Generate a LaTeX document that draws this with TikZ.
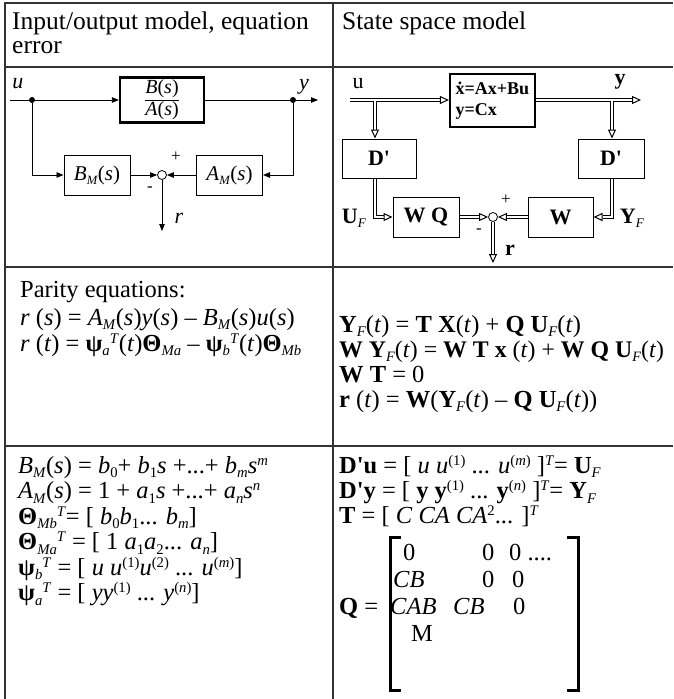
\documentclass[tikz,border=0pt]{standalone}
\usepackage{fontspec}
\setmainfont{Liberation Serif}
\usetikzlibrary{arrows.meta}
\makeatletter
\newcommand\scrsz{\fontsize{\strip@pt\dimexpr0.6\dimexpr\f@size pt\relax\relax}{1}\selectfont}
\newcommand\sbs[1]{\raisebox{-0.2em}{\scrsz #1}}
\newcommand\sps[1]{\raisebox{0.32em}{\scrsz #1}}
\makeatother
\newcommand\iv[1]{\textit{#1}}
\newcommand\bq{\textquotesingle}
\begin{document}
\begin{tikzpicture}[x=1pt,y=-1pt,
  tbl/.style={line width=1.6pt, black!80},
  H/.style={inner sep=0pt, anchor=base west, font=\fontsize{25.5}{26}\selectfont},
  T/.style={inner sep=0pt, anchor=base west, font=\fontsize{24.5}{26}\selectfont},
  blk/.style={draw, line width=1pt, minimum width=66pt, minimum height=40pt, inner sep=0pt, font=\fontsize{21}{22}\selectfont},
  blkb/.style={draw, line width=1pt, minimum width=66pt, minimum height=40pt, inner sep=0pt, font=\fontsize{22}{22}\selectfont\bfseries},
  bigblk/.style={draw, line width=2.2pt, inner sep=0pt},
  ln/.style={line width=0.8pt, -{Triangle[length=7pt,width=5.5pt]}},
  dblout/.style={draw=black, line width=4pt, shorten >=9pt},
  dblin/.style={draw=white, line width=2pt, -{Triangle[open,length=9pt,width=8pt,line width=1pt,color=black]}},
  dotn/.style={circle, fill, inner sep=0pt, minimum size=6pt},
  sumc/.style={circle, draw, line width=0.8pt, fill=white, inner sep=0pt, minimum size=9pt},
  lbl/.style={inner sep=0pt, font=\fontsize{22}{22}\selectfont},
  sml/.style={inner sep=0pt, font=\fontsize{17}{17}\selectfont},
  brk/.style={line width=3pt}
]
\useasboundingbox (0,0) rectangle (673,699);
\fill[white] (0,0) rectangle (673,699);

% table
\draw[tbl] (673,3) -- (5,3) -- (5,699);
\draw[tbl] (333,3) -- (333,699);
\draw[tbl] (5,67) -- (673,67);
\draw[tbl] (5,267) -- (673,267);
\draw[tbl] (5,446) -- (673,446);

% headers
\node[H] (h1) at (12,29) {Input/output model, equation};
\node[H] (h2) at (12,53) {error};
\node[H] (h3) at (342,29) {State space model};

% ---------- left diagram
\coordinate (uin) at (10,100);
\node[dotn] (d1) at (32,100) {};
\node[bigblk, minimum width=84pt, minimum height=45pt, font=\fontsize{20}{22}\selectfont] (P) at (162,100)
  {\begin{tabular}{@{}c@{}}\iv{B}(\iv{s})\\\hline\iv{A}(\iv{s})\end{tabular}};
\node[dotn] (d2) at (293,100) {};
\coordinate (yout) at (318,100);
\node[blk] (BM) at (97,175) {\iv{B}\sbs{\iv{M}}(\iv{s})};
\node[blk] (AM) at (229.5,175) {\iv{A}\sbs{\iv{M}}(\iv{s})};
\node[sumc] (S1) at (162,175) {};
\coordinate (r1) at (162,231);

\draw[ln] (uin) -- (P);
\draw[ln] (P) -- (yout);
\draw[ln] (d1) |- (BM);
\draw[ln] (d2) |- (AM);
\draw[ln] (BM) -- (S1);
\draw[ln] (AM) -- (S1);
\draw[ln] (S1) -- (r1);

\node[lbl] (lu) at (18,84) {\iv{u}};
\node[lbl] (ly) at (304,87) {\iv{y}};
\node[sml] (lp1) at (176,157) {+};
\node[sml] (lm1) at (150,189) {-};
\node[lbl] (lr1) at (179,218) {\iv{r}};

% ---------- right diagram
\coordinate (uin2) at (350,100);
\node[bigblk, minimum width=85pt, minimum height=53pt, text width=74pt, inner xsep=5pt, align=left,
      font=\fontsize{18}{21}\selectfont\bfseries] (SS) at (492.5,100.5) {\.{x}=Ax+Bu\\y=Cx};
\coordinate (yout2) at (641,100);
\coordinate (jL) at (375,100);
\coordinate (jR) at (612,100);
\node[blkb, minimum width=74pt, minimum height=39pt] (DL) at (379,158.5) {D\bq};
\node[blkb, minimum height=39pt] (DR) at (611,158.5) {D\bq};
\node[blkb] (WQ) at (426,217) {W Q};
\node[blkb, minimum width=65pt] (WW) at (560.5,217) {W};
\node[sumc] (S2) at (493,217) {};
\coordinate (r2) at (493,263);

% branches (outer then inner)
\draw[dblout] (jL) -- (jL |- DL.north);
\draw[dblin] (jL) -- (jL |- DL.north);
\draw[dblout] (jR) -- (jR |- DR.north);
\draw[dblin] (jR) -- (jR |- DR.north);
% main line
\draw[dblout] (uin2) -- (uin2 -| SS.west);
\draw[dblin] (uin2) -- (uin2 -| SS.west);
\draw[dblout] (SS.east |- yout2) -- (yout2);
\draw[dblin] (SS.east |- yout2) -- (yout2);
\draw[white, line width=2pt] (jL) -- ++(0,3.5);
\draw[white, line width=2pt] (jR) -- ++(0,3.5);
% feedback
\draw[dblout] (jL |- DL.south) |- (WQ);
\draw[dblin] (jL |- DL.south) |- (WQ);
\draw[dblout] (jR |- DR.south) |- (WW);
\draw[dblin] (jR |- DR.south) |- (WW);
\draw[dblout] (WQ) -- (S2);
\draw[dblin] (WQ) -- (S2);
\draw[dblout] (WW) -- (S2);
\draw[dblin] (WW) -- (S2);
\draw[dblout] (S2) -- (r2);
\draw[dblin] (S2) -- (r2);

\node[lbl] (lu2) at (358,84) {u};
\node[lbl, font=\fontsize{22}{22}\selectfont\bfseries] (ly2) at (620,82) {y};
\node[lbl] (lUF) at (354,218) {\textbf{U}\sbs{\iv{F}}};
\node[lbl] (lYF) at (632,218) {\textbf{Y}\sbs{\iv{F}}};
\node[sml] (lp2) at (506,200) {+};
\node[sml] (lm2) at (479,231) {-};
\node[lbl, font=\fontsize{22}{22}\selectfont\bfseries] (lr2) at (510,250) {r};

% ---------- row 3 left
\node[T] (e31) at (20,297) {Parity equations:};
\node[T] (e32) at (20,325) {\iv{r} (\iv{s}) = \iv{A}\sbs{\iv{M}}(\iv{s})\iv{y}(\iv{s}) – \iv{B}\sbs{\iv{M}}(\iv{s})\iv{u}(\iv{s})};
\node[T] (e33) at (20,351) {\iv{r} (\iv{t}) = \textbf{ψ}\sbs{\iv{a}}\sps{\iv{T}}(\iv{t})\textbf{Θ}\sbs{\iv{Ma}} – \textbf{ψ}\sbs{\iv{b}}\sps{\iv{T}}(\iv{t})\textbf{Θ}\sbs{\iv{Mb}}};

% ---------- row 3 right
\node[T] (e34) at (339,332) {\textbf{Y}\sbs{\iv{F}}(\iv{t}) = \textbf{T X}(\iv{t}) + \textbf{Q U}\sbs{\iv{F}}(\iv{t})};
\node[T, font=\fontsize{23.8}{26}\selectfont] (e35) at (339,357) {\textbf{W Y}\sbs{\iv{F}}(\iv{t}) = \textbf{W T x} (\iv{t}) + \textbf{W Q U}\sbs{\iv{F}}(\iv{t})};
\node[T] (e36) at (339,382) {\textbf{W T} = 0};
\node[T] (e37) at (339,407) {\textbf{r} (\iv{t}) = \textbf{W}(\textbf{Y}\sbs{\iv{F}}(\iv{t}) – \textbf{Q U}\sbs{\iv{F}}(\iv{t}))};

% ---------- row 4 left
\node[T] (e41) at (18,473) {\iv{B}\sbs{\iv{M}}(\iv{s}) = \iv{b}\sbs{0}+ \iv{b}\sbs{1}\iv{s} +...+ \iv{b}\sbs{\iv{m}}\iv{s}\sps{\iv{m}}};
\node[T] (e42) at (18,498.5) {\iv{A}\sbs{\iv{M}}(\iv{s}) = 1 + \iv{a}\sbs{1}\iv{s} +...+ \iv{a}\sbs{\iv{n}}\iv{s}\sps{\iv{n}}};
\node[T] (e43) at (18,524) {\textbf{Θ}\sbs{\iv{Mb}}\sps{\iv{T}}= [ \iv{b}\sbs{0}\iv{b}\sbs{1}... \iv{b}\sbs{\iv{m}}]};
\node[T] (e44) at (18,549.5) {\textbf{Θ}\sbs{\iv{Ma}}\sps{\iv{T}} = [ 1 \iv{a}\sbs{1}\iv{a}\sbs{2}... \iv{a}\sbs{\iv{n}}]};
\node[T] (e45) at (18,575) {\textbf{ψ}\sbs{\iv{b}}\sps{\iv{T}} = [ \iv{u} \iv{u}\sps{(1)}\iv{u}\sps{(2)} ... \iv{u}\sps{(\iv{m})}]};
\node[T] (e46) at (18,600.5) {\textbf{ψ}\sbs{\iv{a}}\sps{\iv{T}} = [ \iv{y}\iv{y}\sps{(1)} ... \iv{y}\sps{(\iv{n})}]};

% ---------- row 4 right
\node[T] (e47) at (339,473) {\textbf{D\bq u} = [ \iv{u} \iv{u}\sps{(1)} ... \iv{u}\sps{(\iv{m})} ]\sps{\iv{T}}= \textbf{U}\sbs{\iv{F}}};
\node[T] (e48) at (339,498.5) {\textbf{D\bq y} = [ \textbf{y y}\sps{(1)} ... \textbf{y}\sps{(\iv{n})} ]\sps{\iv{T}}= \textbf{Y}\sbs{\iv{F}}};
\node[T] (e49) at (339,523) {\textbf{T} = [ \iv{C} \iv{CA} \iv{CA}\sps{2}... ]\sps{\iv{T}}};
\node[T] (eQ) at (339,614) {\textbf{Q} =};
\draw[brk] (401,537) -- (390,537) -- (390,690) -- (401,690);
\draw[brk] (567,537) -- (578,537) -- (578,690) -- (567,690);
\node[T] (m11) at (403,560) {0};
\node[T] (m12) at (482,560) {0};
\node[T] (m13) at (509,560) {0 ....};
\node[T] (m21) at (393,587) {\iv{CB}};
\node[T] (m22) at (482,587) {0};
\node[T] (m23) at (512,587) {0};
\node[T] (m31) at (390,614) {\iv{CAB}};
\node[T] (m32) at (453,614) {\iv{CB}};
\node[T] (m33) at (513,614) {0};
\node[T] (m41) at (411,641) {M};
\end{tikzpicture}
\end{document}
